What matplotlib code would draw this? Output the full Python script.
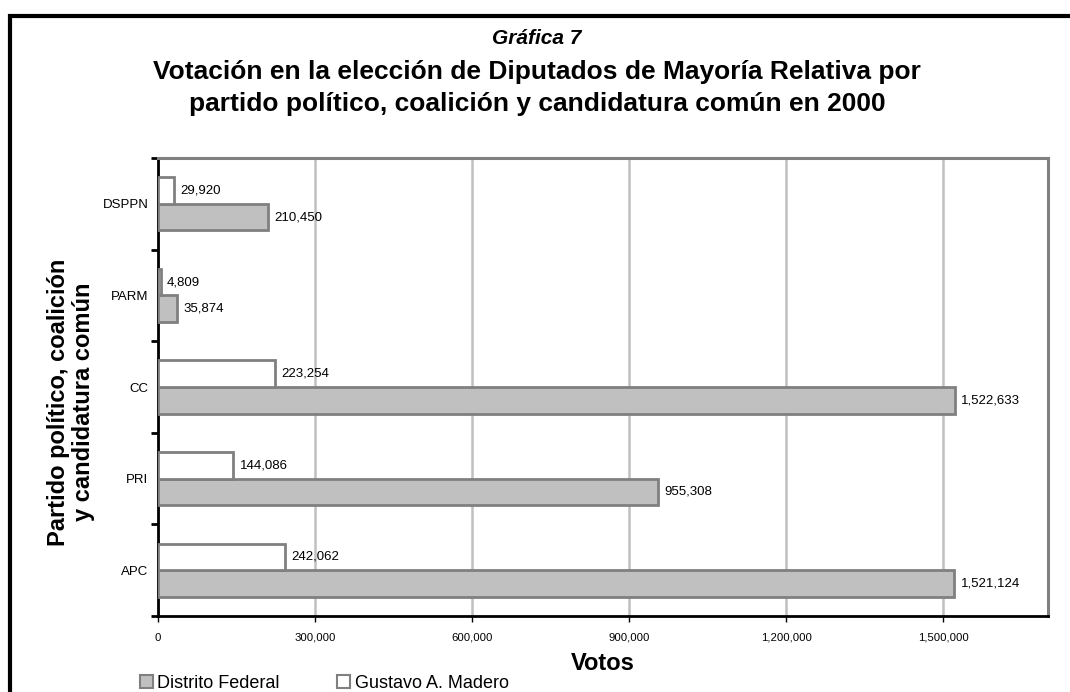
import matplotlib
matplotlib.use('Agg')
import matplotlib.pyplot as plt
from matplotlib.patches import Patch, Rectangle
from matplotlib.ticker import FuncFormatter, MultipleLocator
import numpy as np

plt.rcParams['font.family'] = ['Liberation Sans', 'DejaVu Sans']

# datos (de abajo hacia arriba)
partidos = ['APC', 'PRI', 'CC', 'PARM', 'DSPPN']
distrito_federal = [1521124, 955308, 1522633, 35874, 210450]
gustavo_madero = [242062, 144086, 223254, 4809, 29920]

gris = '#c0c0c0'
borde = '#808080'

fig = plt.figure(figsize=(10.7, 6.92), dpi=100)
ax = fig.add_axes([158 / 1070, 1 - 616 / 692, 890 / 1070, 458 / 692])

y = np.arange(len(partidos))
h = 0.29
ax.barh(y - h / 2, distrito_federal, height=h, color=gris, edgecolor=borde, linewidth=2, zorder=3)
ax.barh(y + h / 2, gustavo_madero, height=h, color='white', edgecolor=borde, linewidth=2, zorder=3)

# etiquetas de valores
for yi, v in zip(y, distrito_federal):
    ax.text(v + 12000, yi - h / 2, f'{v:,}', va='center', ha='left', fontsize=9.5, zorder=4)
for yi, v in zip(y, gustavo_madero):
    ax.text(v + 12000, yi + h / 2, f'{v:,}', va='center', ha='left', fontsize=9.5, zorder=4)

ax.set_xlim(0, 1700000)
ax.set_ylim(-0.5, len(partidos) - 0.5)
ax.xaxis.set_major_locator(MultipleLocator(300000))
ax.xaxis.set_major_formatter(FuncFormatter(lambda v, p: f'{int(v):,}'))
ax.set_yticks(y)
ax.set_yticklabels(partidos, fontsize=9.5)
ax.set_yticks(np.arange(-0.5, len(partidos), 1), minor=True)
ax.tick_params(axis='y', which='major', length=0, pad=7)
ax.tick_params(axis='y', which='minor', length=5, width=2, color='black')
ax.tick_params(axis='x', labelsize=8.2, length=4, width=1, pad=8)

ax.grid(axis='x', color=gris, linewidth=1.8, zorder=0)
ax.set_axisbelow(True)
for s in ['left', 'bottom']:
    ax.spines[s].set_color('black')
    ax.spines[s].set_linewidth(2)
for s in ['top', 'right']:
    ax.spines[s].set_color(borde)
    ax.spines[s].set_linewidth(2.2)

ax.set_xlabel('Votos', fontsize=17, fontweight='bold')
ax.xaxis.label.set_va('center')
ax.xaxis.set_label_coords(0.5, -(663 - 616) / 458)
ax.set_ylabel('Partido político, coalición\ny candidatura común', fontsize=17,
              fontweight='bold', linespacing=1.1)
ax.yaxis.label.set_va('center')
ax.yaxis.set_label_coords(-(158 - 71) / 890, (616 - 402) / 458)

# títulos
fig.text(0.502, 1 - 38 / 692, 'Gráfica 7', ha='center', va='center',
         fontsize=15, fontweight='bold', style='italic')
fig.text(0.502, 1 - 72 / 692, 'Votación en la elección de Diputados de Mayoría Relativa por',
         ha='center', va='center', fontsize=19, fontweight='bold')
fig.text(0.502, 1 - 104 / 692, 'partido político, coalición y candidatura común en 2000',
         ha='center', va='center', fontsize=19, fontweight='bold')

# marco exterior
fig.patches.append(Rectangle((10 / 1070, -0.1), 1.2, 1 - 16 / 692 + 0.1,
                             transform=fig.transFigure, fill=False,
                             edgecolor='black', linewidth=3))

handles = [Patch(facecolor=gris, edgecolor=borde, linewidth=1.5, label='Distrito Federal'),
           Patch(facecolor='white', edgecolor=borde, linewidth=1.5, label='Gustavo A. Madero')]
fig.legend(handles=handles, loc='center left', bbox_to_anchor=(131 / 1070, 1 - 683 / 692),
           ncol=2, frameon=False, fontsize=13, handlelength=0.7, handleheight=0.7,
           handletextpad=0.25, columnspacing=3.2, borderpad=0)

fig.savefig('out.png', dpi=100)
